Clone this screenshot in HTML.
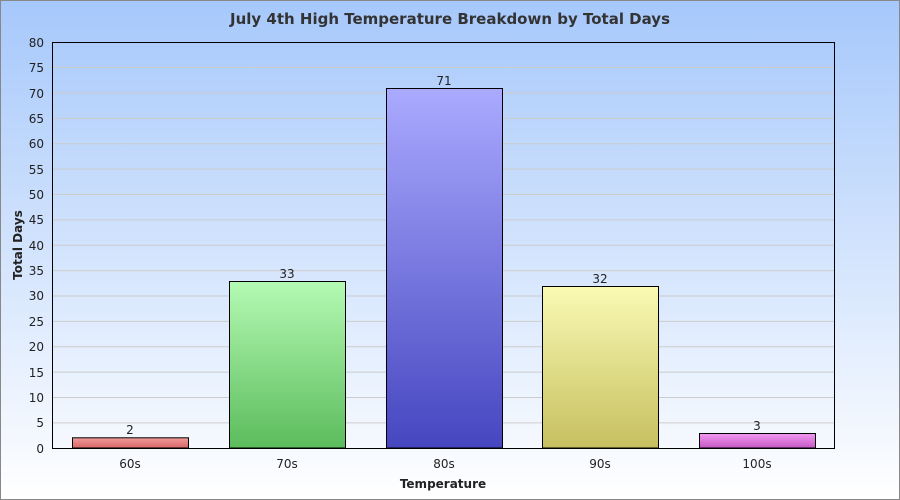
<!DOCTYPE html>
<html><head><meta charset="utf-8"><style>body{margin:0}svg{display:block;font-family:"DejaVu Sans","Liberation Sans",sans-serif}</style></head><body>
<svg width="900" height="500" xmlns="http://www.w3.org/2000/svg">
<defs>
<linearGradient id="bg" x1="0" y1="0" x2="0" y2="1"><stop offset="0" stop-color="#a6c8fb"/><stop offset="1" stop-color="#ffffff"/></linearGradient>
<linearGradient id="r" x1="0" y1="0" x2="0" y2="1"><stop offset="0" stop-color="#f29a9a"/><stop offset="1" stop-color="#d86868"/></linearGradient>
<linearGradient id="g" x1="0" y1="0" x2="0" y2="1"><stop offset="0" stop-color="#b4fab4"/><stop offset="1" stop-color="#5cbc5c"/></linearGradient>
<linearGradient id="b" x1="0" y1="0" x2="0" y2="1"><stop offset="0" stop-color="#aaaaff"/><stop offset="1" stop-color="#4646c0"/></linearGradient>
<linearGradient id="y" x1="0" y1="0" x2="0" y2="1"><stop offset="0" stop-color="#fafab4"/><stop offset="1" stop-color="#c6c060"/></linearGradient>
<linearGradient id="m" x1="0" y1="0" x2="0" y2="1"><stop offset="0" stop-color="#f29af2"/><stop offset="1" stop-color="#c458c4"/></linearGradient>
</defs>
<rect x="0.5" y="0.5" width="899" height="499" fill="url(#bg)" stroke="#888"/>
<text x="450" y="24" text-anchor="middle" font-size="15" font-weight="bold" fill="#333">July 4th High Temperature Breakdown by Total Days</text>
<g stroke="#ccc" stroke-width="1">
<line x1="53" x2="835" y1="67.5" y2="67.5"/><line x1="53" x2="835" y1="93" y2="93"/><line x1="53" x2="835" y1="118.4" y2="118.4"/><line x1="53" x2="835" y1="143.8" y2="143.8"/><line x1="53" x2="835" y1="169.1" y2="169.1"/><line x1="53" x2="835" y1="194.5" y2="194.5"/><line x1="53" x2="835" y1="219.9" y2="219.9"/><line x1="53" x2="835" y1="245.3" y2="245.3"/><line x1="53" x2="835" y1="270.6" y2="270.6"/><line x1="53" x2="835" y1="296" y2="296"/><line x1="53" x2="835" y1="321.4" y2="321.4"/><line x1="53" x2="835" y1="346.8" y2="346.8"/><line x1="53" x2="835" y1="372.1" y2="372.1"/><line x1="53" x2="835" y1="397.5" y2="397.5"/><line x1="53" x2="835" y1="422.9" y2="422.9"/>
</g>
<g stroke="#000" stroke-width="1">
<rect x="72.5" y="437.8" width="116" height="10.2" fill="url(#r)"/>
<rect x="229.5" y="281.5" width="116" height="166.5" fill="url(#g)"/>
<rect x="386.5" y="88.5" width="116" height="359.5" fill="url(#b)"/>
<rect x="542.5" y="286.5" width="116" height="161.5" fill="url(#y)"/>
<rect x="699.5" y="433.5" width="116" height="14.5" fill="url(#m)"/>
</g>
<rect x="52.5" y="42.5" width="782" height="406" fill="none" stroke="#000"/>
<g font-size="12" fill="#222" text-anchor="middle">
<text x="130" y="434">2</text><text x="287" y="278">33</text><text x="444" y="85">71</text><text x="600" y="283">32</text><text x="757" y="430">3</text>
<text x="130" y="468">60s</text><text x="287" y="468">70s</text><text x="444" y="468">80s</text><text x="600" y="468">90s</text><text x="757" y="468">100s</text>
</g>
<g font-size="12" fill="#222" text-anchor="end">
<text x="44" y="47">80</text><text x="44" y="72">75</text><text x="44" y="98">70</text><text x="44" y="123">65</text><text x="44" y="148">60</text><text x="44" y="174">55</text><text x="44" y="199">50</text><text x="44" y="224">45</text><text x="44" y="250">40</text><text x="44" y="275">35</text><text x="44" y="300">30</text><text x="44" y="326">25</text><text x="44" y="351">20</text><text x="44" y="377">15</text><text x="44" y="402">10</text><text x="44" y="427">5</text><text x="44" y="453">0</text>
</g>
<text x="443" y="488" text-anchor="middle" font-size="12" font-weight="bold" fill="#222">Temperature</text>
<text transform="translate(22,245) rotate(-90)" text-anchor="middle" font-size="12" font-weight="bold" fill="#222">Total Days</text>
</svg>
</body></html>
